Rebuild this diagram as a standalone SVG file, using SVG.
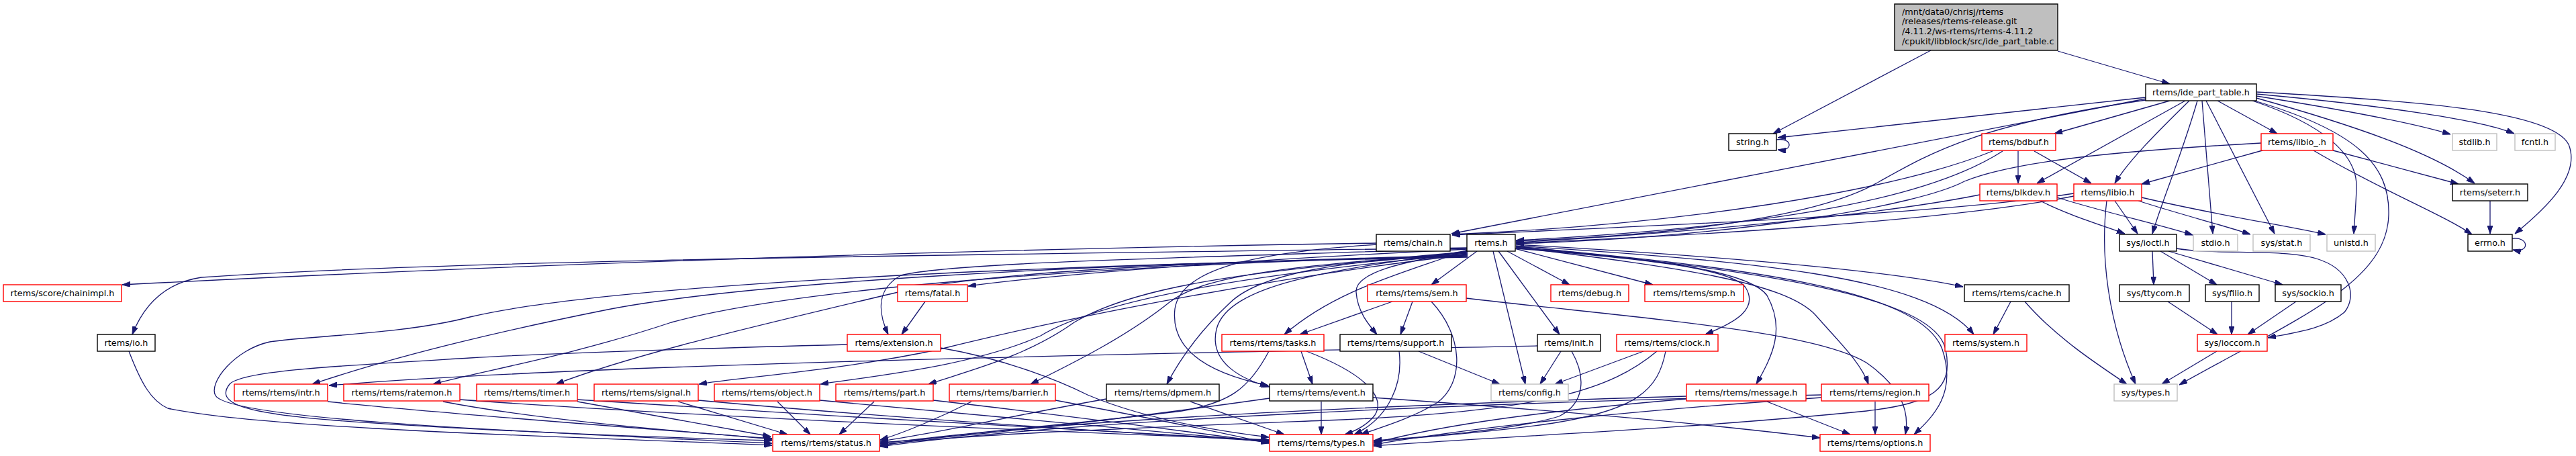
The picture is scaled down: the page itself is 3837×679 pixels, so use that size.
<svg xmlns="http://www.w3.org/2000/svg" width="3837" height="679" viewBox="0 0 3837 679">
<style>
.node rect{fill:#ffffff;stroke-width:1.4}
.b rect{stroke:#000000}
.r rect{stroke:#ff0000}
.g rect{stroke:#bfbfbf}
.node text{font-family:"DejaVu Sans","Liberation Sans",sans-serif;font-size:12.8px;fill:#000000;text-anchor:middle}
.root rect{fill:#bfbfbf;stroke:#000000;stroke-width:1.4}
.root text{font-family:"DejaVu Sans","Liberation Sans",sans-serif;font-size:12.8px;fill:#000000}
#edges path{fill:none;stroke:#191970;stroke-width:1.3;marker-end:url(#ah)}
</style>
<defs>
<marker id="ah" viewBox="0 0 12 8" refX="12" refY="4" markerWidth="12" markerHeight="8" markerUnits="userSpaceOnUse" orient="auto">
<path d="M0,0 L12,4 L0,8 z" fill="#191970" stroke="#191970" stroke-width="1"/>
</marker>
</defs>
<rect x="0" y="0" width="3837" height="679" fill="#ffffff"/>
<g id="edges">
<path d="M2876,75 L2641,199"/>
<path d="M3065,76 L3232,125"/>
<path d="M3196,145 L2648,205"/>
<path d="M2646,208 C2670,204 2672,226 2648,223"/>
<path d="M3196,147 L2162,348"/>
<path d="M3196,149 C2950,185 2880,225 2800,270 C2700,330 2450,352 2258,359"/>
<path d="M3232,150 L3060,199"/>
<path d="M3255,150 L3034,273"/>
<path d="M3261,150 C3210,200 3170,240 3150,273"/>
<path d="M3273,150 C3250,230 3220,300 3206,348"/>
<path d="M3280,150 L3296,348"/>
<path d="M3286,150 L3388,348"/>
<path d="M3303,150 L3392,199"/>
<path d="M3361,143 C3500,165 3600,185 3650,200"/>
<path d="M3361,140 C3560,158 3700,180 3745,199"/>
<path d="M3361,146 C3500,185 3620,225 3686,273"/>
<path d="M3361,137 C3600,150 3800,165 3826,215 C3845,262 3790,312 3746,348"/>
<path d="M3355,150 C3460,185 3512,230 3510,280 C3509,310 3507,330 3506,348"/>
<path d="M3358,150 C3510,195 3560,245 3558,320 C3555,420 3430,470 3246,573"/>
<path d="M3006,225 L3006,273"/>
<path d="M3030,225 L3115,273"/>
<path d="M2968,225 C2820,285 2500,335 2163,349"/>
<path d="M2983,225 C2890,285 2700,335 2258,358"/>
<path d="M2949,290 C2800,320 2500,348 2258,361"/>
<path d="M3039,299 C3080,320 3130,335 3165,348"/>
<path d="M3064,294 C3130,315 3220,335 3266,350"/>
<path d="M3089,288 C2900,318 2500,335 2163,350"/>
<path d="M3089,292 C2900,330 2500,352 2258,362"/>
<path d="M3150,299 L3184,348"/>
<path d="M3185,299 C3250,320 3310,335 3352,349"/>
<path d="M3190,294 C3300,320 3400,335 3464,349"/>
<path d="M3138,299 C3128,380 3140,480 3181,572"/>
<path d="M3370,224 L3190,274"/>
<path d="M3475,224 L3662,274"/>
<path d="M3446,224 C3540,280 3640,320 3682,349"/>
<path d="M3368,213 C3150,225 3000,240 2926,270 C2860,305 2600,352 2258,363"/>
<path d="M3709,299 L3709,348"/>
<path d="M3742,355 C3768,352 3768,378 3743,372"/>
<path d="M3206,374 L3208,424"/>
<path d="M3218,374 L3302,424"/>
<path d="M3230,374 L3400,424"/>
<path d="M3242,370 C3300,380 3400,370 3450,385 C3500,400 3512,440 3492,465 C3462,490 3420,495 3378,503"/>
<path d="M3229,449 L3303,498"/>
<path d="M3324,449 L3324,498"/>
<path d="M3420,449 L3348,498"/>
<path d="M3302,523 L3220,572"/>
<path d="M2995,449 L2969,498"/>
<path d="M3016,449 C3060,500 3120,540 3168,572"/>
<path d="M2258,364 C2500,378 2800,400 2924,427"/>
<path d="M2258,366 C2600,388 2870,410 2940,498"/>
<path d="M2258,367 C2600,398 2860,430 2893,520 C2915,585 2880,620 2851,647"/>
<path d="M2258,367 C2620,402 2880,440 2898,520 C2910,580 2880,600 2780,612 C2500,640 2200,652 2046,664"/>
<path d="M2258,368 C2500,398 2660,420 2705,470 C2740,510 2772,540 2783,572"/>
<path d="M2258,369 C2460,385 2605,402 2632,440 C2660,490 2640,530 2616,572"/>
<path d="M2258,370 C2450,385 2580,400 2600,428 C2620,460 2585,480 2540,498"/>
<path d="M2256,370 L2462,424"/>
<path d="M2245,374 L2338,424"/>
<path d="M2232,374 L2323,498"/>
<path d="M2224,374 L2272,572"/>
<path d="M2200,374 L2132,424"/>
<path d="M2186,372 C2080,410 1990,432 1913,498"/>
<path d="M2186,373 C2090,390 2018,405 2020,435 C2022,465 2040,485 2051,498"/>
<path d="M2186,374 C2000,400 1830,420 1812,490 C1800,540 1850,565 1891,576"/>
<path d="M2050,364 C1900,375 1760,392 1750,460 C1742,530 1820,560 1889,574"/>
<path d="M2186,375 C2000,390 1880,405 1833,450 C1790,490 1760,530 1738,572"/>
<path d="M2186,376 C1950,395 1800,405 1742,450 C1680,500 1600,540 1535,572"/>
<path d="M2186,377 C1900,400 1700,420 1600,480 C1530,530 1450,550 1383,572"/>
<path d="M2186,378 C1900,405 1650,440 1550,500 C1450,545 1300,560 1222,572"/>
<path d="M2186,379 C1900,412 1600,470 1400,520 C1250,552 1100,562 1041,572"/>
<path d="M2186,380 C1800,390 1500,402 1350,432 C1150,480 950,525 828,572"/>
<path d="M2186,381 C1700,392 1200,425 1000,480 C850,530 720,552 645,572"/>
<path d="M2186,382 C1600,392 1100,422 900,462 C700,502 560,540 465,572"/>
<path d="M2186,371 C1900,385 1600,405 1442,426"/>
<path d="M2186,370 C1800,383 1420,390 1342,410 C1302,432 1310,470 1323,498"/>
<path d="M2186,369 C1600,378 700,385 300,413 C240,422 212,460 197,498"/>
<path d="M2050,362 C1500,370 800,392 182,424"/>
<path d="M2186,383 C1500,395 900,425 700,472 C600,498 460,500 402,509 C350,520 310,570 321,589 C340,622 700,640 1150,660"/>
<path d="M1378,449 L1343,498"/>
<path d="M1262,513 C1000,520 800,527 700,533 C500,545 360,552 342,572 C320,600 360,615 500,626 C700,641 1000,652 1150,656"/>
<path d="M1401,518 C1500,535 1580,568 1620,588 C1700,622 1800,640 1890,651"/>
<path d="M192,523 C210,570 225,597 250,608 C400,640 900,652 1150,663"/>
<path d="M488,598 C700,620 1000,640 1150,654"/>
<path d="M2290,515 C1800,525 900,540 490,574"/>
<path d="M660,598 C800,625 1000,642 1150,653"/>
<path d="M685,595 C1000,618 1500,640 1890,655"/>
<path d="M860,598 L1148,650"/>
<path d="M860,595 C1200,618 1600,640 1890,656"/>
<path d="M1010,598 L1173,647"/>
<path d="M1040,596 C1300,620 1600,640 1890,657"/>
<path d="M1158,598 L1207,647"/>
<path d="M1221,596 C1500,620 1700,640 1890,658"/>
<path d="M1302,598 L1250,647"/>
<path d="M1390,596 C1600,620 1750,640 1890,659"/>
<path d="M1447,598 C1400,622 1345,645 1311,655"/>
<path d="M1572,596 C1700,620 1800,640 1890,660"/>
<path d="M1648,594 C1500,620 1400,645 1311,657"/>
<path d="M1773,598 L1913,647"/>
<path d="M1891,593 C1700,620 1500,645 1311,659"/>
<path d="M1968,598 L1968,647"/>
<path d="M2045,592 C2300,610 2550,632 2711,652"/>
<path d="M1890,523 C1860,580 1830,600 1760,612 C1600,632 1400,648 1311,661"/>
<path d="M1946,523 C2030,555 2065,590 2048,618 C2035,635 2015,643 2003,647"/>
<path d="M1938,523 L1955,572"/>
<path d="M2084,523 C2090,570 2070,622 2017,647"/>
<path d="M2113,523 L2234,572"/>
<path d="M2074,449 L1936,498"/>
<path d="M2104,449 L2086,498"/>
<path d="M2132,449 C2180,500 2182,570 2140,600 C2100,625 2045,640 2027,647"/>
<path d="M2184,444 C2450,475 2700,492 2780,540 C2830,575 2845,610 2838,647"/>
<path d="M2325,523 L2294,572"/>
<path d="M2341,523 C2362,560 2362,600 2322,620 C2250,642 2100,652 2046,656"/>
<path d="M2448,523 L2316,572"/>
<path d="M2468,523 C2400,580 2300,612 2000,625 C1700,637 1400,648 1311,663"/>
<path d="M2481,523 C2470,580 2440,612 2300,632 C2200,646 2100,652 2046,658"/>
<path d="M2632,598 L2756,647"/>
<path d="M2512,590 C2000,605 1500,630 1311,664"/>
<path d="M2512,594 C2300,612 2150,632 2046,660"/>
<path d="M2793,598 L2793,647"/>
<path d="M2713,588 C2200,600 1600,625 1311,665"/>
<path d="M2713,592 C2400,614 2200,636 2046,662"/>
</g>
<g id="n_root" class="root"><rect x="2822" y="6" width="243" height="69"/>
<text x="2833" y="21.5">/mnt/data0/chrisj/rtems</text>
<text x="2833" y="36.3">/releases/rtems-release.git</text>
<text x="2833" y="51">/4.11.2/ws-rtems/rtems-4.11.2</text>
<text x="2833" y="65.7">/cpukit/libblock/src/ide_part_table.c</text></g>
<g id="n_ide" class="node b"><rect x="3196" y="125" width="165" height="25"/><text x="3278.5" y="142">rtems/ide_part_table.h</text></g>
<g id="n_string" class="node b"><rect x="2575" y="199" width="71" height="25"/><text x="2610.5" y="216">string.h</text></g>
<g id="n_bdbuf" class="node r"><rect x="2952" y="199" width="110" height="25"/><text x="3007" y="216">rtems/bdbuf.h</text></g>
<g id="n_libio_" class="node r"><rect x="3368" y="199" width="107" height="25"/><text x="3421.5" y="216">rtems/libio_.h</text></g>
<g id="n_stdlib" class="node g"><rect x="3653" y="199" width="66" height="25"/><text x="3686" y="216">stdlib.h</text></g>
<g id="n_fcntl" class="node g"><rect x="3746" y="199" width="60" height="25"/><text x="3776" y="216">fcntl.h</text></g>
<g id="n_blkdev" class="node r"><rect x="2949" y="274" width="115" height="25"/><text x="3006.5" y="291">rtems/blkdev.h</text></g>
<g id="n_libio" class="node r"><rect x="3089" y="274" width="101" height="25"/><text x="3139.5" y="291">rtems/libio.h</text></g>
<g id="n_seterr" class="node b"><rect x="3653" y="274" width="112" height="25"/><text x="3709" y="291">rtems/seterr.h</text></g>
<g id="n_chain" class="node b"><rect x="2050" y="349" width="110" height="25"/><text x="2105" y="366">rtems/chain.h</text></g>
<g id="n_rtems" class="node b"><rect x="2185" y="349" width="72" height="25"/><text x="2221" y="366">rtems.h</text></g>
<g id="n_ioctl" class="node b"><rect x="3157" y="349" width="85" height="25"/><text x="3199.5" y="366">sys/ioctl.h</text></g>
<g id="n_stdio" class="node g"><rect x="3267" y="349" width="66" height="25"/><text x="3300" y="366">stdio.h</text></g>
<g id="n_stat" class="node g"><rect x="3356" y="349" width="85" height="25"/><text x="3398.5" y="366">sys/stat.h</text></g>
<g id="n_unistd" class="node g"><rect x="3466" y="349" width="72" height="25"/><text x="3502" y="366">unistd.h</text></g>
<g id="n_errno" class="node b"><rect x="3676" y="349" width="66" height="25"/><text x="3709" y="366">errno.h</text></g>
<g id="n_chainimpl" class="node r"><rect x="5" y="424" width="176" height="25"/><text x="93" y="441">rtems/score/chainimpl.h</text></g>
<g id="n_fatal" class="node r"><rect x="1337" y="424" width="104" height="25"/><text x="1389" y="441">rtems/fatal.h</text></g>
<g id="n_sem" class="node r"><rect x="2037" y="424" width="147" height="25"/><text x="2110.5" y="441">rtems/rtems/sem.h</text></g>
<g id="n_debug" class="node r"><rect x="2310" y="424" width="116" height="25"/><text x="2368" y="441">rtems/debug.h</text></g>
<g id="n_smp" class="node r"><rect x="2450" y="424" width="147" height="25"/><text x="2523.5" y="441">rtems/rtems/smp.h</text></g>
<g id="n_cache" class="node b"><rect x="2926" y="424" width="156" height="25"/><text x="3004" y="441">rtems/rtems/cache.h</text></g>
<g id="n_ttycom" class="node b"><rect x="3157" y="424" width="104" height="25"/><text x="3209" y="441">sys/ttycom.h</text></g>
<g id="n_filio" class="node b"><rect x="3285" y="424" width="80" height="25"/><text x="3325" y="441">sys/filio.h</text></g>
<g id="n_sockio" class="node b"><rect x="3389" y="424" width="98" height="25"/><text x="3438" y="441">sys/sockio.h</text></g>
<g id="n_io" class="node b"><rect x="145" y="498" width="86" height="25"/><text x="188" y="515">rtems/io.h</text></g>
<g id="n_extension" class="node r"><rect x="1262" y="498" width="139" height="25"/><text x="1331.5" y="515">rtems/extension.h</text></g>
<g id="n_tasks" class="node r"><rect x="1820" y="498" width="152" height="25"/><text x="1896" y="515">rtems/rtems/tasks.h</text></g>
<g id="n_support" class="node b"><rect x="1996" y="498" width="166" height="25"/><text x="2079" y="515">rtems/rtems/support.h</text></g>
<g id="n_init" class="node b"><rect x="2290" y="498" width="94" height="25"/><text x="2337" y="515">rtems/init.h</text></g>
<g id="n_clock" class="node r"><rect x="2408" y="498" width="151" height="25"/><text x="2483.5" y="515">rtems/rtems/clock.h</text></g>
<g id="n_system" class="node r"><rect x="2897" y="498" width="122" height="25"/><text x="2958" y="515">rtems/system.h</text></g>
<g id="n_ioccom" class="node r"><rect x="3273" y="498" width="104" height="25"/><text x="3325" y="515">sys/ioccom.h</text></g>
<g id="n_intr" class="node r"><rect x="349" y="572" width="139" height="25"/><text x="418.5" y="589">rtems/rtems/intr.h</text></g>
<g id="n_ratemon" class="node r"><rect x="512" y="572" width="173" height="25"/><text x="598.5" y="589">rtems/rtems/ratemon.h</text></g>
<g id="n_timer" class="node r"><rect x="710" y="572" width="150" height="25"/><text x="785" y="589">rtems/rtems/timer.h</text></g>
<g id="n_signal" class="node r"><rect x="885" y="572" width="155" height="25"/><text x="962.5" y="589">rtems/rtems/signal.h</text></g>
<g id="n_object" class="node r"><rect x="1064" y="572" width="157" height="25"/><text x="1142.5" y="589">rtems/rtems/object.h</text></g>
<g id="n_part" class="node r"><rect x="1245" y="572" width="145" height="25"/><text x="1317.5" y="589">rtems/rtems/part.h</text></g>
<g id="n_barrier" class="node r"><rect x="1414" y="572" width="158" height="25"/><text x="1493" y="589">rtems/rtems/barrier.h</text></g>
<g id="n_dpmem" class="node b"><rect x="1648" y="572" width="168" height="25"/><text x="1732" y="589">rtems/rtems/dpmem.h</text></g>
<g id="n_event" class="node b"><rect x="1891" y="572" width="154" height="25"/><text x="1968" y="589">rtems/rtems/event.h</text></g>
<g id="n_config" class="node g"><rect x="2221" y="572" width="115" height="25"/><text x="2278.5" y="589">rtems/config.h</text></g>
<g id="n_message" class="node r"><rect x="2512" y="572" width="178" height="25"/><text x="2601" y="589">rtems/rtems/message.h</text></g>
<g id="n_region" class="node r"><rect x="2713" y="572" width="160" height="25"/><text x="2793" y="589">rtems/rtems/region.h</text></g>
<g id="n_systypes" class="node g"><rect x="3149" y="572" width="94" height="25"/><text x="3196" y="589">sys/types.h</text></g>
<g id="n_status" class="node r"><rect x="1151" y="647" width="159" height="25"/><text x="1230.5" y="664">rtems/rtems/status.h</text></g>
<g id="n_types" class="node r"><rect x="1891" y="647" width="154" height="25"/><text x="1968" y="664">rtems/rtems/types.h</text></g>
<g id="n_options" class="node r"><rect x="2711" y="647" width="164" height="25"/><text x="2793" y="664">rtems/rtems/options.h</text></g>
</svg>
